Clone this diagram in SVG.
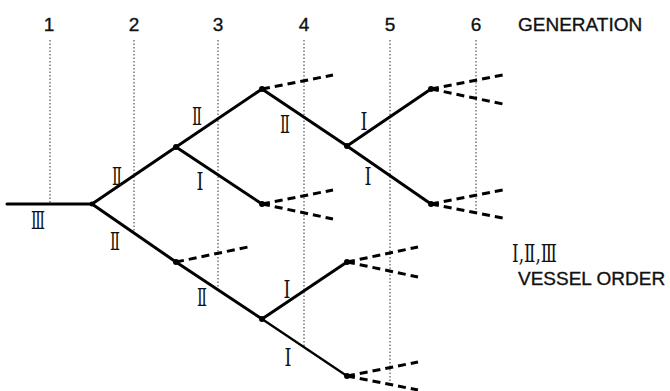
<svg xmlns="http://www.w3.org/2000/svg" width="670" height="391" viewBox="0 0 670 391">
<style>
.bg{fill:#fff}
.gen{stroke:#333;stroke-width:1;stroke-dasharray:1.5 2;fill:none}
.v{stroke:#000;stroke-width:3;fill:none;stroke-linecap:round}
.vt{stroke:#000;stroke-width:2.3;fill:none;stroke-linecap:round}
.d{stroke:#000;stroke-width:3;fill:none;stroke-dasharray:8 5}
.n{fill:#000}
.num{font-family:"Liberation Sans","DejaVu Sans",sans-serif;font-size:19px;fill:#111;stroke:#111;stroke-width:0.35;text-anchor:middle}
.lbl{font-family:"Liberation Sans","DejaVu Sans",sans-serif;font-size:19px;fill:#111;stroke:#111;stroke-width:0.35}
.ro{font-family:"DejaVu Serif","Liberation Serif",serif;font-size:25px;fill:#111;text-anchor:middle}
.leg{font-family:"DejaVu Serif","Liberation Serif",serif;font-size:25px;fill:#111}
</style>
<rect class="bg" width="670" height="391"/>
<g id="generations">
<line class="gen" x1="50" y1="40" x2="50" y2="204"/>
<line class="gen" x1="134" y1="40" x2="134" y2="233"/>
<line class="gen" x1="218" y1="40" x2="218" y2="290"/>
<line class="gen" x1="304" y1="40" x2="304" y2="347"/>
<line class="gen" x1="390" y1="40" x2="390" y2="385"/>
<line class="gen" x1="476" y1="40" x2="476" y2="213"/>
<text class="num" x="49" y="31">1</text>
<text class="num" x="134" y="31">2</text>
<text class="num" x="218" y="31">3</text>
<text class="num" x="304" y="31">4</text>
<text class="num" x="390" y="31">5</text>
<text class="num" x="476" y="31">6</text>
<text class="lbl" x="518" y="31">GENERATION</text>
</g>
<g id="connectors">
<line class="v" x1="7" y1="204" x2="92" y2="204"/>
<line class="v" x1="92" y1="204" x2="176" y2="147"/>
<line class="v" x1="92" y1="204" x2="176" y2="262"/>
<line class="v" x1="176" y1="147" x2="262" y2="89"/>
<line class="v" x1="176" y1="147" x2="262" y2="204"/>
<line class="v" x1="262" y1="89" x2="347" y2="146"/>
<line class="v" x1="347" y1="146" x2="431" y2="89"/>
<line class="v" x1="347" y1="146" x2="431" y2="204"/>
<line class="v" x1="176" y1="262" x2="262" y2="319"/>
<line class="v" x1="262" y1="319" x2="347" y2="262"/>
<line class="vt" x1="262" y1="319" x2="347" y2="376"/>
<line class="d" x1="262" y1="89" x2="333" y2="75"/>
<line class="d" x1="262" y1="204" x2="333" y2="190"/>
<line class="d" x1="262" y1="204" x2="333" y2="219"/>
<line class="d" x1="176" y1="262" x2="248" y2="247"/>
<line class="d" x1="431" y1="89" x2="503" y2="75"/>
<line class="d" x1="431" y1="89" x2="503" y2="104"/>
<line class="d" x1="431" y1="204" x2="503" y2="190"/>
<line class="d" x1="431" y1="204" x2="503" y2="218"/>
<line class="d" x1="347" y1="262" x2="418" y2="247"/>
<line class="d" x1="347" y1="262" x2="418" y2="277"/>
<line class="d" x1="347" y1="376" x2="418" y2="362"/>
<line class="d" x1="347" y1="376" x2="418" y2="390"/>
</g>
<g id="nodes">
<circle class="n" cx="92" cy="204" r="2.5"/>
<circle class="n" cx="176" cy="147" r="3"/>
<circle class="n" cx="176" cy="262" r="3"/>
<circle class="n" cx="262" cy="89" r="3"/>
<circle class="n" cx="262" cy="204" r="3"/>
<circle class="n" cx="347" cy="146" r="3"/>
<circle class="n" cx="431" cy="89" r="3"/>
<circle class="n" cx="431" cy="204" r="3"/>
<circle class="n" cx="262" cy="319" r="3"/>
<circle class="n" cx="347" cy="262" r="3"/>
<circle class="n" cx="347" cy="376" r="3"/>
</g>
<g id="order-labels">
<text class="ro" x="38" y="229" textLength="14" lengthAdjust="spacingAndGlyphs">Ⅲ</text>
<text class="ro" x="117" y="185" textLength="10" lengthAdjust="spacingAndGlyphs">Ⅱ</text>
<text class="ro" x="197" y="125" textLength="10" lengthAdjust="spacingAndGlyphs">Ⅱ</text>
<text class="ro" x="200" y="190" textLength="7" lengthAdjust="spacingAndGlyphs">Ⅰ</text>
<text class="ro" x="285" y="133" textLength="10" lengthAdjust="spacingAndGlyphs">Ⅱ</text>
<text class="ro" x="364" y="130" textLength="7" lengthAdjust="spacingAndGlyphs">Ⅰ</text>
<text class="ro" x="368" y="185" textLength="7" lengthAdjust="spacingAndGlyphs">Ⅰ</text>
<text class="ro" x="115" y="250" textLength="10" lengthAdjust="spacingAndGlyphs">Ⅱ</text>
<text class="ro" x="202" y="306" textLength="10" lengthAdjust="spacingAndGlyphs">Ⅱ</text>
<text class="ro" x="287" y="298" textLength="7" lengthAdjust="spacingAndGlyphs">Ⅰ</text>
<text class="ro" x="288" y="366" textLength="7" lengthAdjust="spacingAndGlyphs">Ⅰ</text>
</g>
<g id="legend">
<text class="leg" x="512" y="262" textLength="45" lengthAdjust="spacingAndGlyphs">Ⅰ,Ⅱ,Ⅲ</text>
<text class="lbl" x="518" y="285">VESSEL ORDER</text>
</g>
</svg>
